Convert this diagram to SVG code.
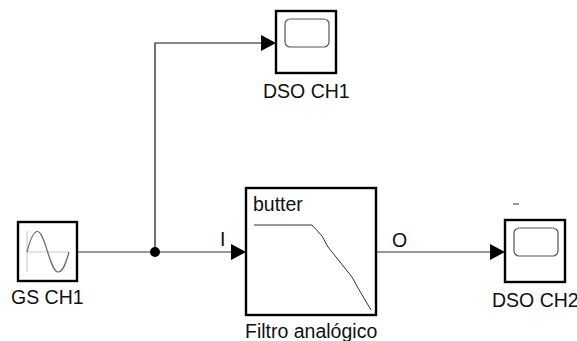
<svg xmlns="http://www.w3.org/2000/svg" width="577" height="341" viewBox="0 0 577 341">
<style>
text{font-family:"Liberation Sans",Arial,sans-serif;font-size:19.5px;fill:#111}
.b{fill:#fff;stroke:#000;stroke-width:2.4}
.s{fill:#fff;stroke:#555;stroke-width:1.2}
.w{fill:none;stroke:#777;stroke-width:1.6}
.k{fill:none;stroke:#111;stroke-width:1.2}
</style>
<rect width="577" height="341" fill="#fff"/>
<g id="connectors">
<path class="w" d="M78 252H232"/>
<path class="k" d="M155 252V43H262"/>
<path class="w" d="M376 252H492"/>
<circle cx="155" cy="252" r="5" fill="#000"/>
<path d="M261 35L276 43L261 51Z" fill="#000"/>
<path d="M231 244L246 252L231 260Z" fill="#000"/>
<path d="M490 244L505 252L490 260Z" fill="#000"/>
</g>
<g id="dso1">
<rect class="b" x="276" y="11" width="60" height="62"/>
<rect class="s" x="285" y="19" width="44" height="28" rx="5"/>
<text x="263" y="98">DSO CH1</text>
</g>
<g id="gs">
<rect class="b" x="18" y="222" width="59" height="59"/>
<path d="M27 231V272M27 252H69" fill="none" stroke="#ccc" stroke-width="1.2"/>
<path d="M27 252C30 240 33 231.500 37.500 231.500C45 231.500 50 272 58 272C63 272 66 263 69 252" fill="none" stroke="#666" stroke-width="1.2"/>
<text x="11" y="304">GS CH1</text>
</g>
<g id="filtro">
<rect class="b" x="246" y="188" width="130" height="127"/>
<text x="253" y="211">butter</text>
<path d="M254 225H312L322 236L328 247L352 277L358 288L371 310" fill="none" stroke="#333" stroke-width="1"/>
<text x="245" y="338">Filtro analógico</text>
</g>
<g id="dso2">
<rect class="b" x="505" y="220" width="60" height="62"/>
<rect class="s" x="514" y="228" width="44" height="28" rx="5"/>
<rect x="513" y="203" width="6" height="2" fill="#999"/>
<text x="492" y="307">DSO CH2</text>
</g>
<g id="labels">
<text x="220" y="246">I</text>
<text x="392" y="247">O</text>
</g>
</svg>
